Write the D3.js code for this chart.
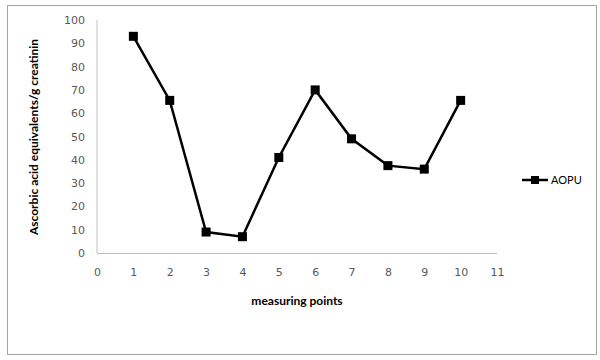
<!DOCTYPE html>
<html>
<head>
<meta charset="utf-8">
<script src="https://cdn.jsdelivr.net/npm/d3@7"></script>
<style>
  body { margin: 0; background: #fff; }
</style>
</head>
<body>
<div id="chart"></div>
<script>
const WIDTH = 600
const HEIGHT = 360

// data
const points = [1, 2, 3, 4, 5, 6, 7, 8, 9, 10]
const aopu = [93, 65.5, 9, 7, 41, 70, 49, 37.5, 36, 65.5]
const xTicks = [0, 1, 2, 3, 4, 5, 6, 7, 8, 9, 10, 11]
const yTicks = [0, 10, 20, 30, 40, 50, 60, 70, 80, 90, 100]
const seriesName = "AOPU"

const svg = d3.select("#chart")
    .append("svg")
    .attr("width", WIDTH)
    .attr("height", HEIGHT)

// outer frame
svg.append("rect")
    .attr("x", 7.5)
    .attr("y", 5.5)
    .attr("width", 589)
    .attr("height", 349)
    .attr("fill", "#fff")
    .attr("stroke", "#a6a6a6")

const x = d3.scaleLinear().domain([0, 11]).range([97, 497])
const y = d3.scaleLinear().domain([0, 100]).range([253, 20])

// axes lines (no tick marks)
svg.append("line")
    .attr("x1", x(0)).attr("x2", x(0))
    .attr("y1", y(0)).attr("y2", y(100))
    .attr("stroke", "#bfbfbf")
svg.append("line")
    .attr("x1", x(0)).attr("x2", x(11))
    .attr("y1", y(0) + 0.5).attr("y2", y(0) + 0.5)
    .attr("stroke", "#bfbfbf")

const xAxis = svg.append("g")
    .attr("transform", `translate(0,${y(0)})`)
    .call(d3.axisBottom(x).tickValues(xTicks).tickSize(0).tickPadding(15))
xAxis.select(".domain").remove()

const yAxis = svg.append("g")
    .attr("transform", `translate(${x(0)},0)`)
    .call(d3.axisLeft(y).tickValues(yTicks).tickSize(0).tickPadding(12))
yAxis.select(".domain").remove()

svg.selectAll(".tick text")
    .attr("font-family", "DejaVu Sans, sans-serif")
    .attr("font-size", 11)
    .attr("fill", "#595959")

// line
const line = d3.line()
    .x((d, i) => x(points[i]))
    .y(d => y(d))

svg.append("path")
    .datum(aopu)
    .attr("d", line)
    .attr("fill", "none")
    .attr("stroke", "#000")
    .attr("stroke-width", 2.5)

svg.selectAll(".marker")
    .data(aopu)
    .enter()
    .append("rect")
    .attr("class", "marker")
    .attr("x", (d, i) => x(points[i]) - 4.5)
    .attr("y", d => y(d) - 4.5)
    .attr("width", 9)
    .attr("height", 9)
    .attr("fill", "#000")

// axis titles
svg.append("text")
    .attr("x", 297)
    .attr("y", 305)
    .attr("text-anchor", "middle")
    .attr("font-family", "Lato, sans-serif")
    .attr("font-weight", "bold")
    .attr("font-size", 12)
    .attr("fill", "#000")
    .text("measuring points")

svg.append("text")
    .attr("transform", "translate(38,137) rotate(-90)")
    .attr("text-anchor", "middle")
    .attr("font-family", "Lato, sans-serif")
    .attr("font-weight", "bold")
    .attr("font-size", 12)
    .attr("fill", "#000")
    .text("Ascorbic acid equivalents/g creatinin")

// legend
const legend = svg.append("g").attr("transform", "translate(522,180)")
legend.append("line")
    .attr("x1", 0).attr("x2", 26)
    .attr("y1", 0).attr("y2", 0)
    .attr("stroke", "#000")
    .attr("stroke-width", 2.5)
legend.append("rect")
    .attr("x", 9).attr("y", -4)
    .attr("width", 8).attr("height", 8)
    .attr("fill", "#000")
legend.append("text")
    .attr("x", 29)
    .attr("y", 4)
    .attr("font-family", "Lato, sans-serif")
    .attr("font-size", 11)
    .attr("fill", "#000")
    .text(seriesName)
</script>
</body>
</html>
